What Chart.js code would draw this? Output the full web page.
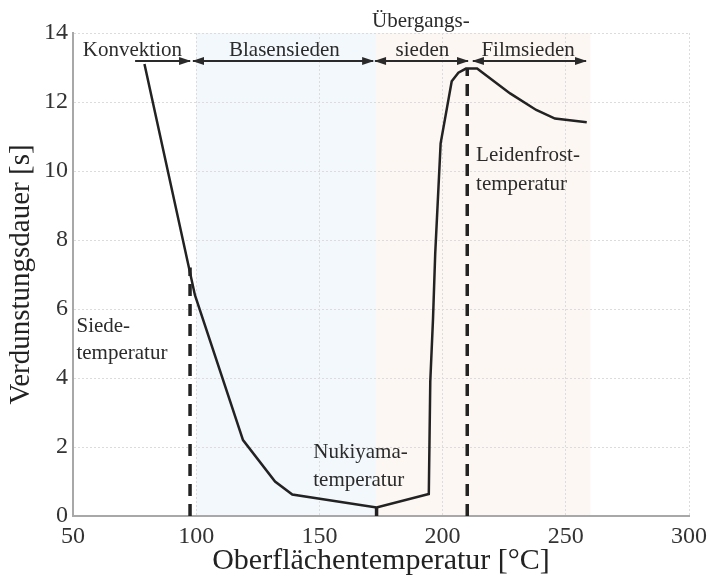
<!DOCTYPE html>
<html>
<head>
<meta charset="utf-8">
<script src="https://cdn.jsdelivr.net/npm/chart.js@4/dist/chart.umd.min.js"></script>
<style>
  html, body { margin: 0; padding: 0; background: #fff; }
  #wrap { width: 708px; height: 576px; }
</style>
</head>
<body>
<div id="wrap"><canvas id="kurve"></canvas></div>
<script>
// ---------- Daten ----------

// Verdunstungskurve: Oberflächentemperatur [°C] -> Verdunstungsdauer [s]
const temperaturen = [79, 99.5, 119, 132, 139, 173.2, 194.4, 195, 196.1, 197, 199.2, 203.7, 206.4, 209.5, 214, 227.4, 238, 245.6, 258.5];
const dauer        = [13.1, 6.4, 2.2, 1.0, 0.62, 0.25, 0.64, 3.9, 5.7, 7.6, 10.8, 12.6, 12.85, 12.97, 12.97, 12.25, 11.77, 11.52, 11.41];

const xTicks = [50, 100, 150, 200, 250, 300];
const yTicks = [0, 2, 4, 6, 8, 10, 12, 14];

// Siedetemperatur, Nukiyama- und Leidenfrosttemperatur
const siedeTemp = 97.5, siedeDauer = 7.2;
const nukiyamaTemp = 173.2, nukiyamaDauer = 0.25;
const leidenfrostTemp = 210, leidenfrostDauer = 12.97;

// Grenzen der Siedebereiche (blau: Blasensieden, beige: Übergangs-/Filmsieden)
const bereichBlau = [100, 173];
const bereichBeige = [173, 260];

// Pfeile über der Kurve: [von, bis, Spitze links, Spitze rechts]
const pfeilHoehe = 13.19;
const pfeile = [
  [75.2, 97.5, false, true],
  [98.7, 171.8, true, true],
  [172.6, 210.3, true, true],
  [212.3, 258.2, true, true]
];

// Beschriftungen: [Text, x, y, Ausrichtung]
const texte = [
  ["Konvektion", 74.1, 13.5, "center"],
  ["Blasensieden", 135.8, 13.5, "center"],
  ["Übergangs-", 191.2, 14.32, "center"],
  ["sieden", 191.8, 13.5, "center"],
  ["Filmsieden", 234.7, 13.5, "center"],
  ["Leidenfrost-", 213.6, 10.46, "left"],
  ["temperatur", 213.6, 9.62, "left"],
  ["Siede-", 51.4, 5.5, "left"],
  ["temperatur", 51.4, 4.72, "left"],
  ["Nukiyama-", 147.5, 1.83, "left"],
  ["temperatur", 147.5, 1.04, "left"]
];

const schrift = "'Liberation Serif', 'Times New Roman', serif";

// ---------- Hintergrund, Pfeile und Texte ----------

const bereichePlugin = {
  id: "bereiche",
  beforeDraw(chart) {
    const {ctx, chartArea, scales: {x, y}} = chart;
    ctx.save();
    ctx.fillStyle = "#f3f8fd";
    ctx.fillRect(x.getPixelForValue(bereichBlau[0]), chartArea.top,
      x.getPixelForValue(bereichBlau[1]) - x.getPixelForValue(bereichBlau[0]), chartArea.bottom - chartArea.top);
    ctx.fillStyle = "#fcf7f3";
    ctx.fillRect(x.getPixelForValue(bereichBeige[0]), chartArea.top,
      x.getPixelForValue(bereichBeige[1]) - x.getPixelForValue(bereichBeige[0]), chartArea.bottom - chartArea.top);
    ctx.restore();
  },
  afterDatasetsDraw(chart) {
    const {ctx, scales: {x, y}} = chart;
    ctx.save();

    // Pfeile
    const py = y.getPixelForValue(pfeilHoehe);
    ctx.strokeStyle = "#2a2a2a";
    ctx.fillStyle = "#2a2a2a";
    ctx.lineWidth = 2;
    pfeile.forEach(p => {
      const x1 = x.getPixelForValue(p[0]);
      const x2 = x.getPixelForValue(p[1]);
      ctx.beginPath();
      ctx.moveTo(x1, py);
      ctx.lineTo(x2, py);
      ctx.stroke();
      if (p[2]) {
        ctx.beginPath();
        ctx.moveTo(x1 - 1, py);
        ctx.lineTo(x1 + 11, py - 4);
        ctx.lineTo(x1 + 11, py + 4);
        ctx.closePath();
        ctx.fill();
      }
      if (p[3]) {
        ctx.beginPath();
        ctx.moveTo(x2 + 1, py);
        ctx.lineTo(x2 - 11, py - 4);
        ctx.lineTo(x2 - 11, py + 4);
        ctx.closePath();
        ctx.fill();
      }
    });

    // Texte
    ctx.font = "21px " + schrift;
    ctx.fillStyle = "#2b2b2b";
    ctx.textBaseline = "middle";
    texte.forEach(t => {
      ctx.textAlign = t[3];
      ctx.fillText(t[0], x.getPixelForValue(t[1]), y.getPixelForValue(t[2]));
    });
    ctx.restore();
  }
};

// ---------- Diagramm ----------

new Chart(document.getElementById("kurve"), {
  type: "line",
  data: {
    datasets: [
      {
        data: temperaturen.map((t, i) => ({x: t, y: dauer[i]})),
        borderColor: "#222",
        borderWidth: 2.5,
        pointRadius: 0,
        tension: 0
      },
      {
        data: [{x: siedeTemp, y: 0}, {x: siedeTemp, y: siedeDauer}],
        borderColor: "#222",
        borderWidth: 3.5,
        borderDash: [12, 8],
        pointRadius: 0
      },
      {
        data: [{x: leidenfrostTemp, y: 0}, {x: leidenfrostTemp, y: leidenfrostDauer}],
        borderColor: "#222",
        borderWidth: 3.5,
        borderDash: [12, 8],
        pointRadius: 0
      },
      {
        data: [{x: nukiyamaTemp, y: 0}, {x: nukiyamaTemp, y: nukiyamaDauer}],
        borderColor: "#222",
        borderWidth: 3.5,
        pointRadius: 0
      }
    ]
  },
  options: {
    responsive: true,
    maintainAspectRatio: false,
    animation: false,
    layout: {
      padding: {left: 0, top: 33, right: 19, bottom: 0}
    },
    plugins: {
      legend: {display: false},
      tooltip: {enabled: false}
    },
    scales: {
      x: {
        type: "linear",
        min: 50,
        max: 300,
        afterBuildTicks: s => { s.ticks = xTicks.map(v => ({value: v})); },
        afterFit: s => { s.height = 60; s.paddingRight = 0; },
        grid: {color: "#dcdcdc", lineWidth: 1, drawTicks: false},
        border: {color: "#a8a8a8", width: 2, dash: [2, 2]},
        ticks: {
          color: "#333",
          padding: 6,
          maxRotation: 0,
          font: {family: schrift, size: 24}
        },
        title: {
          display: true,
          text: "Oberflächentemperatur [°C]",
          color: "#222",
          padding: 0,
          font: {family: schrift, size: 30, lineHeight: 1}
        }
      },
      y: {
        min: 0,
        max: 14,
        afterBuildTicks: s => { s.ticks = yTicks.map(v => ({value: v})); },
        afterFit: s => { s.width = 73; },
        grid: {color: "#dcdcdc", lineWidth: 1, drawTicks: false},
        border: {color: "#a8a8a8", width: 2, dash: [2, 2]},
        ticks: {
          color: "#333",
          padding: 5,
          font: {family: schrift, size: 24}
        },
        title: {
          display: true,
          text: "Verdunstungsdauer [s]",
          color: "#222",
          padding: {top: 7, bottom: 0},
          font: {family: schrift, size: 29, lineHeight: 1}
        }
      }
    }
  },
  plugins: [bereichePlugin]
});
</script>
</body>
</html>
